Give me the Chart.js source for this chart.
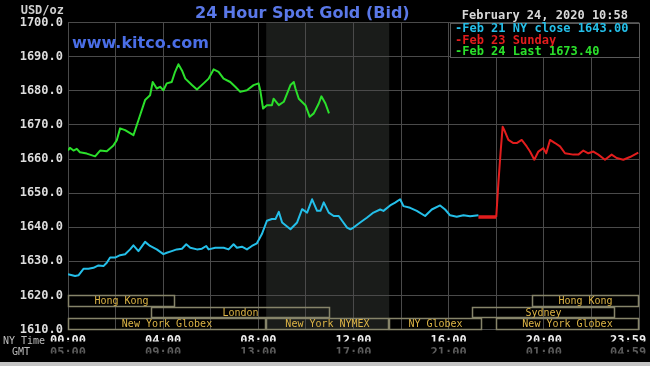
<!DOCTYPE html>
<html lang="en">
<head>
    <meta charset="UTF-8">
    <title>24 Hour Spot Gold (Bid)</title>
    <script src="https://cdn.jsdelivr.net/npm/chart.js"></script>
    <style>
        * { margin: 0; padding: 0; box-sizing: border-box; }
        body { background: #000; width: 650px; height: 366px; overflow: hidden; }
    </style>
</head>
<body>
    <canvas id="goldChart" width="650" height="366"></canvas>

    <script>
        // hours after 00:00 NY time
        const feb21Hours = [0, 0.3, 0.44, 0.65, 0.86, 1.07, 1.28, 1.49, 1.63, 1.77, 1.98, 2.19, 2.4, 2.61, 2.75, 2.96,
            3.24, 3.45, 3.73, 4.01, 4.15, 4.36, 4.57, 4.79, 4.97, 5.14, 5.42, 5.63, 5.81, 5.91, 6.19, 6.54, 6.75, 6.96,
            7.1, 7.31, 7.52, 7.73, 7.94, 8.15, 8.36, 8.57, 8.72, 8.86, 9.0, 9.35, 9.63, 9.84, 10.05, 10.26, 10.47, 10.61,
            10.75, 10.96, 11.17, 11.38, 11.52, 11.73, 11.87, 12.0, 12.28, 12.56, 12.84, 13.12, 13.26, 13.54, 13.75,
            13.96, 14.1, 14.38, 14.66, 15.01, 15.29, 15.64, 15.85, 16.06, 16.34, 16.62, 16.9, 17.25];
        const feb21Values = [1626.2, 1625.7, 1625.9, 1627.8, 1627.8, 1628.1, 1628.8, 1628.6, 1629.6, 1631.1, 1631.1,
            1631.8, 1632.1, 1633.5, 1634.7, 1633.0, 1635.7, 1634.5, 1633.5, 1632.1, 1632.5, 1633.0, 1633.5, 1633.7,
            1635.0, 1634.0, 1633.5, 1633.7, 1634.5, 1633.5, 1634.0, 1634.0, 1633.5, 1635.0, 1634.0, 1634.3, 1633.5,
            1634.5, 1635.3, 1638.0, 1641.9, 1642.4, 1642.4, 1644.5, 1641.4, 1639.4, 1641.4, 1645.3, 1644.3, 1648.2,
            1644.8, 1644.8, 1647.3, 1644.3, 1643.3, 1643.3, 1641.9, 1639.9, 1639.4, 1639.9, 1641.4, 1642.8, 1644.3,
            1645.2, 1644.8, 1646.4, 1647.2, 1648.2, 1646.2, 1645.7, 1644.8, 1643.3, 1645.2, 1646.4, 1645.2, 1643.5,
            1643.1, 1643.5, 1643.2, 1643.5];

        // Sunday: last close held until Globex opens, then trading
        const feb23GapHours = [17.25, 18.0];
        const feb23GapValues = [1643.0, 1643.0];
        const feb23Hours = [18.0, 18.09, 18.19, 18.27, 18.37, 18.51, 18.72, 18.86, 19.07, 19.28, 19.42, 19.6, 19.77,
            19.98, 20.1, 20.26, 20.47, 20.68, 20.89, 21.24, 21.45, 21.66, 21.87, 22.08, 22.29, 22.57, 22.85, 23.06,
            23.34, 23.62, 23.97];
        const feb23Values = [1643.0, 1653.0, 1662.7, 1669.5, 1668.0, 1665.6, 1664.7, 1664.7, 1665.6, 1663.7, 1662.2,
            1659.8, 1662.2, 1663.2, 1661.7, 1665.6, 1664.7, 1663.7, 1661.7, 1661.3, 1661.3, 1662.5, 1661.7, 1662.2,
            1661.3, 1659.8, 1661.3, 1660.3, 1659.8, 1660.6, 1661.9];

        const feb24Hours = [0, 0.08, 0.23, 0.37, 0.5, 0.79, 1.14, 1.35, 1.63, 1.91, 2.05, 2.19, 2.4, 2.75, 2.96, 3.24,
            3.45, 3.56, 3.73, 3.87, 4.01, 4.15, 4.36, 4.5, 4.64, 4.79, 4.93, 5.21, 5.42, 5.7, 5.91, 6.12, 6.33, 6.54,
            6.82, 7.03, 7.24, 7.52, 7.8, 8.01, 8.08, 8.2, 8.36, 8.57, 8.64, 8.86, 9.07, 9.35, 9.49, 9.56, 9.7, 9.98,
            10.16, 10.33, 10.54, 10.65, 10.82, 10.97];
        const feb24Values = [1662.5, 1663.3, 1662.5, 1663.0, 1662.0, 1661.6, 1660.8, 1662.5, 1662.3, 1664.0, 1665.5,
            1669.0, 1668.5, 1667.0, 1671.4, 1677.3, 1678.7, 1682.6, 1680.7, 1681.2, 1680.2, 1682.2, 1682.6, 1685.6,
            1687.8, 1686.0, 1683.6, 1681.7, 1680.4, 1682.2, 1683.6, 1686.3, 1685.6, 1683.6, 1682.6, 1681.2, 1679.7,
            1680.2, 1681.7, 1682.2, 1680.2, 1674.8, 1675.8, 1675.8, 1677.7, 1675.8, 1676.8, 1681.7, 1682.6, 1680.7,
            1677.7, 1675.8, 1672.4, 1673.4, 1676.3, 1678.4, 1676.3, 1673.4];

        const tickHours = [0, 4, 8, 12, 16, 20, 24];
        const nyTickLabels = ['00:00', '04:00', '08:00', '12:00', '16:00', '20:00', '23:59'];
        const gmtTickLabels = ['05:00', '09:00', '13:00', '17:00', '21:00', '01:00', '04:59'];

        // trading sessions (NY hours), row 0 = top strip
        const sessionNames = ['Hong Kong', 'London', 'New York Globex', 'New York NYMEX', 'NY Globex', 'Sydney', 'Hong Kong', 'New York Globex'];
        const sessionStart = [0, 3.5, 0, 8.33, 13.5, 17, 19.5, 18];
        const sessionEnd = [4.5, 11, 8.33, 13.5, 17.4, 23, 24, 24];
        const sessionRow = [0, 1, 2, 2, 2, 1, 0, 2];
        const nymexStart = 8.33, nymexEnd = 13.5;

        const toPoints = (hours, values) => hours.map((h, i) => ({ x: h, y: values[i] }));

        const mono = '"DejaVu Sans Mono", monospace';
        const gridColor = '#4a4a4a';

        const hourLabel = labels => v => {
            const i = tickHours.indexOf(v);
            if (i < 0) return '';
            return v === 24 ? labels[i] + '   ' : labels[i];  // keep the last label inside the canvas
        };

        const fixX = s => { s.height = 12; s.paddingLeft = 0; s.paddingRight = 0; };

        const kitcoPlugin = {
            id: 'kitco',
            beforeDraw(chart) {
                const { ctx, chartArea: a, scales: { x } } = chart;
                ctx.save();
                ctx.fillStyle = '#000';
                ctx.fillRect(0, 0, chart.width, chart.height);
                // NYMEX open hours
                ctx.fillStyle = '#1a1c1a';
                const x1 = x.getPixelForValue(nymexStart), x2 = x.getPixelForValue(nymexEnd);
                ctx.fillRect(x1, a.top, x2 - x1, a.bottom - a.top);
                ctx.restore();
            },
            afterDatasetsDraw(chart) {
                const { ctx, scales: { x, y } } = chart;
                ctx.save();
                ctx.font = '10px ' + mono;
                ctx.textAlign = 'center';
                ctx.textBaseline = 'middle';
                sessionNames.forEach((name, i) => {
                    const r = sessionRow[i];
                    const x1 = Math.round(x.getPixelForValue(sessionStart[i]));
                    const x2 = Math.round(x.getPixelForValue(sessionEnd[i]));
                    const y1 = Math.round(y.getPixelForValue(1620 - r * 10 / 3));
                    const y2 = Math.round(y.getPixelForValue(1620 - (r + 1) * 10 / 3));
                    ctx.strokeStyle = '#86846a';
                    ctx.lineWidth = 1.5;
                    ctx.strokeRect(x1 + 0.5, y1 + 0.5, x2 - x1 - 1, y2 - y1 - 1);
                    ctx.fillStyle = '#dcb446';
                    ctx.fillText(name, (x1 + x2) / 2, (y1 + y2) / 2 + 0.5);
                });
                ctx.restore();
            },
            afterDraw(chart) {
                const { ctx } = chart;
                ctx.save();
                // title and site
                ctx.font = 'bold 16px "DejaVu Sans", sans-serif';
                ctx.textBaseline = 'alphabetic';
                ctx.textAlign = 'left';
                ctx.fillStyle = '#5a78e8';
                ctx.fillText('24 Hour Spot Gold (Bid)', 195, 18);
                ctx.fillStyle = '#4a6ee6';
                ctx.fillText('www.kitco.com', 72, 48);

                ctx.font = 'bold 12px ' + mono;
                ctx.fillStyle = '#cfcfcf';
                ctx.textAlign = 'right';
                ctx.fillText('USD/oz', 64, 14);
                ctx.fillStyle = '#d8d8d8';
                ctx.fillText('February 24, 2020 10:58', 628, 19);

                // legend box
                ctx.fillStyle = '#000';
                ctx.fillRect(450, 23, 189, 34);
                ctx.strokeStyle = '#5a5a5a';
                ctx.lineWidth = 1;
                ctx.strokeRect(450.5, 23.5, 189, 34);
                ctx.textAlign = 'left';
                ctx.textBaseline = 'middle';
                let ly = 29;
                chart.data.datasets.forEach(ds => {
                    if (ds.hideInLegend) return;
                    ctx.fillStyle = ds.borderColor;
                    ctx.fillText('-' + ds.label, 455, ly);
                    ly += 11.5;
                });

                // x axis row names
                ctx.font = '10px ' + mono;
                ctx.fillStyle = '#bdbdbd';
                ctx.fillText('NY Time', 3, 341);
                ctx.fillText('GMT', 12, 352);

                ctx.fillStyle = '#c4c4c4';
                ctx.fillRect(0, 362, chart.width, 4);
                ctx.restore();
            }
        };

        const ctx = document.getElementById('goldChart').getContext('2d');
        const goldChart = new Chart(ctx, {
            type: 'line',
            data: {
                datasets: [{
                    label: 'Feb 21 NY close 1643.00',
                    data: toPoints(feb21Hours, feb21Values),
                    borderColor: '#24bfe9',
                    borderWidth: 2
                }, {
                    label: 'Feb 23 Sunday',
                    data: toPoints(feb23Hours, feb23Values),
                    borderColor: '#e21d1d',
                    borderWidth: 2
                }, {
                    label: 'Feb 23 Sunday',
                    data: toPoints(feb23GapHours, feb23GapValues),
                    borderColor: '#e21d1d',
                    borderWidth: 3.5,
                    hideInLegend: true
                }, {
                    label: 'Feb 24 Last 1673.40',
                    data: toPoints(feb24Hours, feb24Values),
                    borderColor: '#2be02b',
                    borderWidth: 2
                }]
            },
            options: {
                responsive: false,
                devicePixelRatio: 1,
                animation: false,
                elements: {
                    point: { radius: 0 },
                    line: { tension: 0, borderJoinStyle: 'round' }
                },
                layout: { padding: { top: 22.7, right: 11, bottom: 12.5, left: 0 } },
                plugins: {
                    legend: { display: false },
                    tooltip: { enabled: false },
                    title: { display: false }
                },
                scales: {
                    x: {
                        type: 'linear', position: 'bottom', weight: 0, min: 0, max: 24,
                        ticks: {
                            stepSize: 2, autoSkip: false, maxRotation: 0, padding: 4,
                            color: '#eeeeee', font: { family: mono, size: 12, weight: 'bold' },
                            callback: hourLabel(nyTickLabels)
                        },
                        grid: { color: gridColor, drawTicks: false },
                        border: { color: gridColor },
                        afterFit: fixX
                    },
                    gmt: {
                        type: 'linear', position: 'bottom', weight: 1, min: 0, max: 24,
                        ticks: {
                            stepSize: 2, autoSkip: false, maxRotation: 0, padding: 4,
                            color: '#5c5c5c', font: { family: mono, size: 12, weight: 'bold' },
                            callback: hourLabel(gmtTickLabels)
                        },
                        grid: { display: false, drawTicks: false },
                        border: { display: false },
                        afterFit: fixX
                    },
                    y: {
                        min: 1610, max: 1700,
                        ticks: {
                            stepSize: 10, padding: 5,
                            color: '#dddddd', font: { family: mono, size: 12, weight: 'bold' },
                            callback: v => v.toFixed(1)
                        },
                        grid: { color: gridColor, drawTicks: false },
                        border: { color: gridColor },
                        afterFit: s => { s.width = 68; }
                    }
                }
            },
            plugins: [kitcoPlugin]
        });
    </script>
</body>
</html>
